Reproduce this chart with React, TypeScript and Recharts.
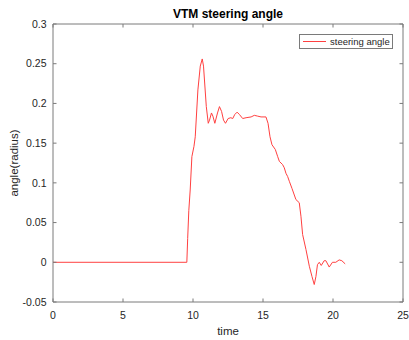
import React from 'react';
import { LineChart, Line, XAxis, YAxis, Legend } from 'recharts';

// Sampled steering angle (radius) over time
const times = [
  0, 9.56, 9.62, 9.7, 9.8, 9.92, 10.07, 10.16, 10.35, 10.52, 10.66, 10.75, 10.95,
  11.09, 11.18, 11.32, 11.42, 11.56, 11.75, 11.89, 12.04, 12.18, 12.32, 12.51,
  12.7, 12.84, 12.98, 13.15, 13.32, 13.55, 13.79, 14.15, 14.38, 14.62, 14.86,
  15.21, 15.36, 15.5, 15.64, 15.88, 16.05, 16.17, 16.4, 16.52, 16.64, 16.76,
  16.88, 17.07, 17.35, 17.59, 17.71, 17.83, 18.07, 18.31, 18.5, 18.66, 18.78,
  18.89, 19.02, 19.16, 19.37, 19.49, 19.73, 19.96, 20.2, 20.44, 20.63, 20.87,
];
const angles = [
  0, 0, 0.03, 0.065, 0.091, 0.133, 0.146, 0.158, 0.217, 0.247, 0.256, 0.247, 0.196,
  0.175, 0.179, 0.188, 0.184, 0.175, 0.188, 0.196, 0.19, 0.179, 0.175, 0.181,
  0.182, 0.181, 0.186, 0.189, 0.186, 0.181, 0.182, 0.183, 0.185, 0.184, 0.183,
  0.183, 0.175, 0.158, 0.148, 0.142, 0.133, 0.127, 0.123, 0.119, 0.112, 0.108,
  0.102, 0.093, 0.079, 0.075, 0.058, 0.035, 0.016, -0.005, -0.018, -0.028, -0.018,
  -0.003, 0.0, -0.004, 0.002, 0.002, -0.006, 0.0, 0.0, 0.003, 0.002, -0.002,
];
const xTicks = [0, 5, 10, 15, 20, 25];
const yTicks = [-0.05, 0, 0.05, 0.1, 0.15, 0.2, 0.25, 0.3];

const data = times.map((t, i) => ({ time: t, angle: angles[i] }));

const FONT = '"Liberation Sans", Arial, Helvetica, sans-serif';
const INK = '#262626';
const AXIS = '#7a7a7a';
const RED = '#ff4040';

const tickStyle = { fontSize: 10.5, fill: INK, fontFamily: FONT };
const blank = () => '';

const LegendBox = () => (
  <div
    style={{
      boxSizing: 'border-box',
      width: 94,
      height: 15,
      border: `1px solid ${AXIS}`,
      background: '#fff',
      display: 'flex',
      alignItems: 'center',
      fontFamily: FONT,
      fontSize: 9.5,
      color: INK,
      lineHeight: '13px',
    }}
  >
    <svg width={29} height={13} style={{ display: 'block' }}>
      <line x1={3} x2={26} y1={6.5} y2={6.5} stroke={RED} strokeWidth={1} />
    </svg>
    <span style={{ marginLeft: 1, whiteSpace: 'nowrap' }}>steering angle</span>
  </div>
);

export default function App() {
  return (
    <div style={{ position: 'absolute', left: 0, top: 0, width: 409, height: 340, background: '#fff' }}>
      <LineChart width={409} height={340} data={data} margin={{ top: 0, right: 0, bottom: 0, left: 0 }}>
        <XAxis
          xAxisId="b"
          dataKey="time"
          type="number"
          domain={[0, 25]}
          ticks={xTicks}
          allowDataOverflow
          height={38}
          stroke={AXIS}
          tickSize={-3.5}
          tickMargin={13}
          tick={tickStyle}
          label={{ value: 'time', position: 'insideBottom', offset: 5, fontSize: 11.5, fill: INK, fontFamily: FONT }}
        />
        <XAxis
          xAxisId="t"
          orientation="top"
          dataKey="time"
          type="number"
          domain={[0, 25]}
          ticks={xTicks}
          allowDataOverflow
          height={24}
          stroke={AXIS}
          tickSize={-3.5}
          tickFormatter={blank}
          label={{
            value: 'VTM steering angle',
            position: 'insideTop',
            offset: 9,
            fontSize: 12,
            fontWeight: 'bold',
            fill: '#000',
            fontFamily: FONT,
          }}
        />
        <YAxis
          yAxisId="l"
          type="number"
          domain={[-0.05, 0.3]}
          ticks={yTicks}
          allowDataOverflow
          width={53}
          stroke={AXIS}
          tickSize={-3.5}
          tickMargin={10}
          tick={tickStyle}
          label={{
            value: 'angle(radius)',
            angle: -90,
            position: 'insideLeft',
            offset: 14,
            style: { textAnchor: 'middle' },
            fontSize: 11.5,
            fill: INK,
            fontFamily: FONT,
          }}
        />
        <YAxis
          yAxisId="r"
          orientation="right"
          type="number"
          domain={[-0.05, 0.3]}
          ticks={yTicks}
          allowDataOverflow
          width={6}
          stroke={AXIS}
          tickSize={-3.5}
          tickFormatter={blank}
        />
        <Legend
          layout="vertical"
          align="center"
          verticalAlign="middle"
          content={() => <LegendBox />}
          wrapperStyle={{ position: 'absolute', left: 299, top: 34, width: 94, height: 15 }}
        />
        <Line
          xAxisId="b"
          yAxisId="l"
          type="linear"
          dataKey="angle"
          name="steering angle"
          stroke={RED}
          strokeWidth={1}
          dot={false}
          activeDot={false}
          isAnimationActive={false}
        />
      </LineChart>
    </div>
  );
}
